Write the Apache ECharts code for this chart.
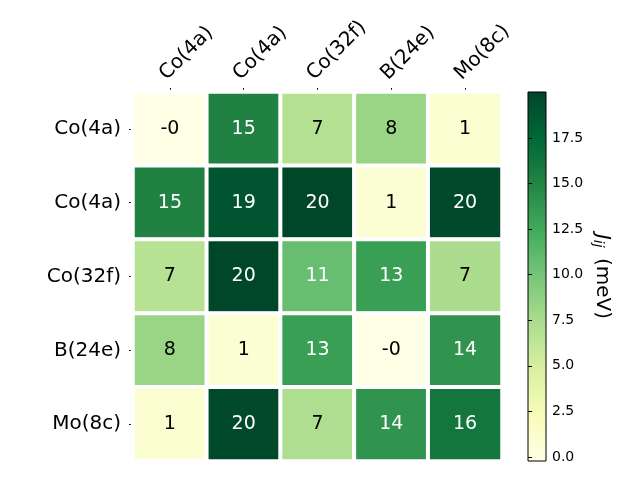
<!DOCTYPE html>
<html>
<head>
<meta charset="utf-8">
<script src="https://cdn.jsdelivr.net/npm/echarts@6/dist/echarts.min.js"></script>
<style>
html, body { margin: 0; padding: 0; background: #fff; }
#main { width: 640px; height: 480px; }
</style>
</head>
<body>
<div id="main"></div>
<script>
var sites = ['Co(4a)', 'Co(4a)', 'Co(32f)', 'B(24e)', 'Mo(8c)'];
// J_ij in meV, row by row (top to bottom)
var row0 = [-0.2, 15.2, 7.0, 8.3, 1.0];
var row1 = [15.2, 18.9, 19.9, 0.9, 19.7];
var row2 = [6.8, 19.9, 10.7, 13.2, 7.4];
var row3 = [8.3, 0.9, 13.2, -0.2, 13.9];
var row4 = [1.0, 19.7, 7.3, 13.9, 16.2];
var cbTicks = [0, 2.5, 5, 7.5, 10, 12.5, 15, 17.5];
var vMin = -0.22, vMax = 20.02;

var ylgn = ['#ffffe5', '#f7fcb9', '#d9f0a3', '#addd8e', '#78c679', '#41ab5d', '#238443', '#006837', '#004529'];
var font = 'DejaVu Sans';

var rows = [row0, row1, row2, row3, row4];
var data = [];
rows.forEach(function (r, i) {
    r.forEach(function (v, j) {
        data.push({
            value: [j, i, v],
            label: { color: v > (vMin + vMax) / 2 ? '#fff' : '#000' }
        });
    });
});

var stops = ylgn.map(function (c, k) {
    return { offset: k / (ylgn.length - 1), color: c };
});

var myChart = echarts.init(document.getElementById('main'));
var option = {
    backgroundColor: '#fff',
    animation: false,
    grid: [
        { left: 133, top: 92, width: 369, height: 369 },
        {
            left: 528, top: 92, width: 18, height: 369, show: true,
            borderColor: '#000', borderWidth: 1,
            backgroundColor: new echarts.graphic.LinearGradient(0, 1, 0, 0, stops)
        }
    ],
    xAxis: [{
        type: 'category', data: sites, position: 'top', gridIndex: 0,
        axisLine: { show: false },
        axisTick: { show: true, alignWithLabel: true, length: 4, lineStyle: { color: '#000' } },
        axisLabel: {
            rotate: -45, margin: 8, verticalAlign: 'bottom',
            color: '#000', fontFamily: font, fontSize: 20, interval: 0
        },
        splitLine: { show: false }
    }, {
        type: 'value', gridIndex: 1, show: false, min: 0, max: 1
    }],
    yAxis: [{
        type: 'category', data: sites, inverse: true, gridIndex: 0,
        axisLine: { show: false },
        axisTick: { show: true, alignWithLabel: true, length: 4, lineStyle: { color: '#000' } },
        axisLabel: { margin: 12, color: '#000', fontFamily: font, fontSize: 20, interval: 0 },
        splitLine: { show: false }
    }, {
        type: 'value', gridIndex: 1, position: 'right', min: vMin, max: vMax,
        axisLine: { show: false },
        axisTick: { show: true, length: 4, lineStyle: { color: '#000' }, customValues: cbTicks },
        axisLabel: {
            color: '#000', fontFamily: font, fontSize: 14, margin: 6,
            customValues: cbTicks,
            formatter: function (v) { return v.toFixed(1); }
        },
        splitLine: { show: false },
        name: '{j|J}{s|ij}{t| (meV)}',
        nameLocation: 'middle', nameRotate: -90, nameGap: 45,
        nameTextStyle: {
            rich: {
                j: { fontFamily: font, fontSize: 20, fontStyle: 'italic', color: '#000' },
                s: { fontFamily: font, fontSize: 14, fontStyle: 'italic', color: '#000', verticalAlign: 'bottom', padding: [8, 4, 0, 0] },
                t: { fontFamily: font, fontSize: 20, color: '#000' }
            }
        }
    }],
    visualMap: {
        show: false, type: 'continuous', min: vMin, max: vMax, dimension: 2, seriesIndex: 0,
        inRange: { color: ylgn }
    },
    series: [{
        type: 'heatmap', xAxisIndex: 0, yAxisIndex: 0,
        data: data,
        itemStyle: { borderColor: '#fff', borderWidth: 4 },
        label: {
            show: true, fontFamily: font, fontSize: 19,
            formatter: function (p) {
                var v = p.value[2];
                var r = Math.round(v);
                return (v < 0 && r === 0) ? '-0' : String(r);
            }
        },
        emphasis: { disabled: true }
    }]
};
myChart.setOption(option);
</script>
</body>
</html>
